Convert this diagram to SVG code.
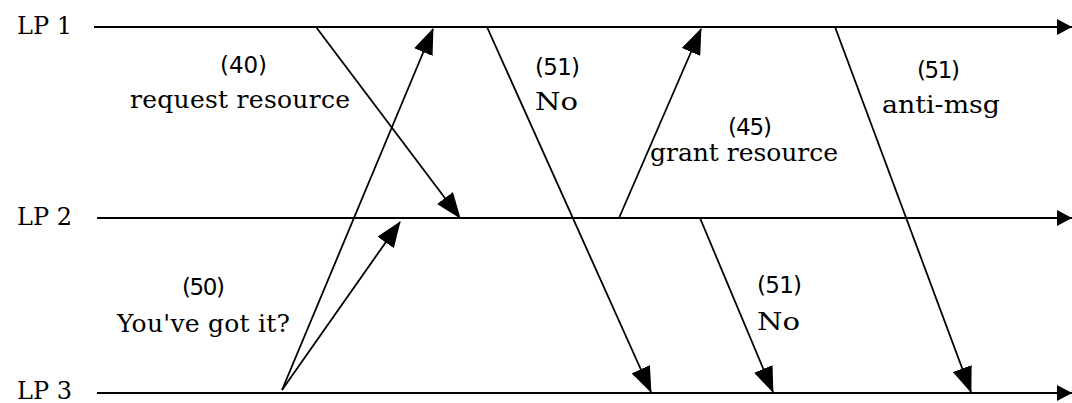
<svg xmlns="http://www.w3.org/2000/svg" width="1072" height="403" viewBox="0 0 1072 403">
<style>
.bg{fill:#fff}
.tl{stroke:#000;stroke-width:2;fill:none}
.msg{stroke:#000;stroke-width:1.8;fill:none}
.lp{font-family:"DejaVu Serif",serif;font-size:24px;fill:#000}
.num{font-family:"DejaVu Sans",sans-serif;font-size:23px;fill:#000;text-anchor:middle}
.lbl{font-family:"DejaVu Serif",serif;font-size:25px;fill:#000;text-anchor:middle}
.lbs{font-family:"DejaVu Serif",serif;font-size:24px;fill:#000}
.nums{font-family:"DejaVu Sans",sans-serif;font-size:23px;fill:#000}
</style>
<defs>
<marker id="ah" viewBox="0 0 26 20" refX="25" refY="10" markerWidth="26" markerHeight="20" markerUnits="userSpaceOnUse" orient="auto">
<path d="M0,0 L26,10 L0,20 Z" fill="#000"/>
</marker>
<marker id="ahe" viewBox="0 0 15 16" refX="15" refY="8" markerWidth="15" markerHeight="16" markerUnits="userSpaceOnUse" orient="auto">
<path d="M0,0 L15,8 L0,16 Z" fill="#000"/>
</marker>
</defs>
<rect class="bg" x="0" y="0" width="1072" height="403"/>
<g id="lp1">
<text class="lp" x="17" y="34" textLength="55" lengthAdjust="spacing">LP 1</text>
</g>
<g id="lp2">
<text class="lp" x="17" y="225" textLength="55" lengthAdjust="spacing">LP 2</text>
</g>
<g id="lp3">
<text class="lp" x="17" y="399" textLength="55" lengthAdjust="spacing">LP 3</text>
</g>
<g id="connectors">
<line class="tl" x1="94" y1="27" x2="1072" y2="27" marker-end="url(#ahe)"/>
<line class="tl" x1="97" y1="218" x2="1072" y2="218" marker-end="url(#ahe)"/>
<line class="tl" x1="97" y1="393" x2="1072" y2="393" marker-end="url(#ahe)"/>
<line class="msg" x1="316" y1="27" x2="460" y2="218" marker-end="url(#ah)"/>
<line class="msg" x1="282" y1="390" x2="433" y2="29" marker-end="url(#ah)"/>
<line class="msg" x1="282" y1="390" x2="400" y2="222" marker-end="url(#ah)"/>
<line class="msg" x1="487" y1="27" x2="651" y2="392" marker-end="url(#ah)"/>
<line class="msg" x1="619" y1="218" x2="701" y2="29" marker-end="url(#ah)"/>
<line class="msg" x1="700" y1="218" x2="773" y2="392" marker-end="url(#ah)"/>
<line class="msg" x1="835" y1="27" x2="971" y2="392" marker-end="url(#ah)"/>
</g>
<g id="label-request">
<text class="num" x="243.5" y="73" textLength="47" lengthAdjust="spacing">(40)</text>
<text class="lbl" x="240" y="108" textLength="220" lengthAdjust="spacing">request resource</text>
</g>
<g id="label-gotit">
<text class="num" x="203.5" y="295" textLength="43" lengthAdjust="spacing">(50)</text>
<text class="lbl" x="203.5" y="332" textLength="173" lengthAdjust="spacing">You've got it?</text>
</g>
<g id="label-no1">
<text class="nums" x="535" y="75" textLength="45" lengthAdjust="spacing">(51)</text>
<text class="lbs" x="535" y="110" textLength="43" lengthAdjust="spacingAndGlyphs">No</text>
</g>
<g id="label-grant">
<text class="num" x="750" y="135" textLength="44" lengthAdjust="spacing">(45)</text>
<text class="lbl" x="744" y="161" textLength="188" lengthAdjust="spacing">grant resource</text>
</g>
<g id="label-anti">
<text class="num" x="938.5" y="78" textLength="43" lengthAdjust="spacing">(51)</text>
<text class="lbl" x="941" y="113" textLength="118" lengthAdjust="spacingAndGlyphs">anti-msg</text>
</g>
<g id="label-no2">
<text class="nums" x="757" y="293" textLength="45" lengthAdjust="spacing">(51)</text>
<text class="lbs" x="757" y="330" textLength="43" lengthAdjust="spacingAndGlyphs">No</text>
</g>
</svg>
